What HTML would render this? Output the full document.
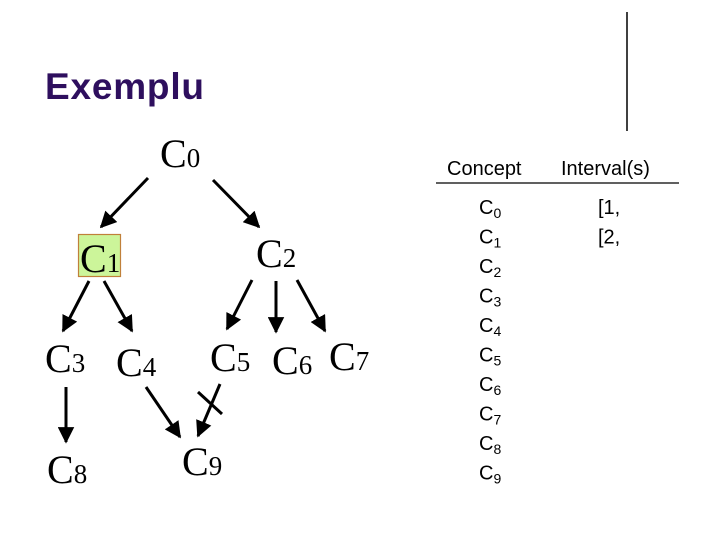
<!DOCTYPE html>
<html><head><meta charset="utf-8"><style>
html,body{margin:0;padding:0;background:#fff;width:720px;height:540px;overflow:hidden}
</style></head><body>
<svg width="720" height="540" viewBox="0 0 720 540" xmlns="http://www.w3.org/2000/svg">
<defs>
<marker id="a" viewBox="0 0 10 10" refX="9" refY="5" markerWidth="5.5" markerHeight="5.5" markerUnits="strokeWidth" orient="auto">
<path d="M0,0 L10,5 L0,10 z" fill="#000"/></marker>
</defs>
<text x="45" y="99" font-family="Liberation Sans, sans-serif" font-weight="bold" font-size="37" fill="#2e0f5e" textLength="159">Exemplu</text>
<line x1="627" y1="12" x2="627" y2="131" stroke="#000" stroke-width="1.5"/>
<rect x="78.5" y="234.5" width="42" height="42" fill="#ccf59a" stroke="#c0803a" stroke-width="1.2"/>
<g font-family="Liberation Serif, serif" font-size="40" fill="#000">
<text x="160" y="167">C<tspan font-size="27">0</tspan></text>
<text x="80" y="272">C<tspan font-size="27">1</tspan></text>
<text x="256" y="267">C<tspan font-size="27">2</tspan></text>
<text x="45" y="372">C<tspan font-size="27">3</tspan></text>
<text x="116" y="376">C<tspan font-size="27">4</tspan></text>
<text x="210" y="371">C<tspan font-size="27">5</tspan></text>
<text x="272" y="374">C<tspan font-size="27">6</tspan></text>
<text x="329" y="370">C<tspan font-size="27">7</tspan></text>
<text x="47" y="483">C<tspan font-size="27">8</tspan></text>
<text x="182" y="475">C<tspan font-size="27">9</tspan></text>
</g>
<g stroke="#000" stroke-width="3" marker-end="url(#a)">
<line x1="148" y1="178" x2="101" y2="227"/>
<line x1="213" y1="180" x2="259" y2="227"/>
<line x1="89" y1="281" x2="63" y2="331"/>
<line x1="104" y1="281" x2="132" y2="331"/>
<line x1="252" y1="280" x2="227" y2="329"/>
<line x1="276" y1="281" x2="276" y2="332"/>
<line x1="297" y1="280" x2="325" y2="331"/>
<line x1="66" y1="387" x2="66" y2="442"/>
<line x1="146" y1="387" x2="180" y2="437"/>
<line x1="220" y1="384" x2="198" y2="436"/>
</g>
<line x1="198" y1="392" x2="222" y2="414" stroke="#000" stroke-width="3"/>
<g font-family="Liberation Sans, sans-serif" fill="#000">
<text x="447" y="175" font-size="20">Concept</text>
<text x="561" y="175" font-size="20">Interval(s)</text>
<line x1="436" y1="183" x2="679" y2="183" stroke="#000" stroke-width="1.2"/>
<g font-size="20">
<text x="479" y="214">C<tspan font-size="14" dy="4">0</tspan></text>
<text x="479" y="243.5">C<tspan font-size="14" dy="4">1</tspan></text>
<text x="479" y="273">C<tspan font-size="14" dy="4">2</tspan></text>
<text x="479" y="302.5">C<tspan font-size="14" dy="4">3</tspan></text>
<text x="479" y="332">C<tspan font-size="14" dy="4">4</tspan></text>
<text x="479" y="361.5">C<tspan font-size="14" dy="4">5</tspan></text>
<text x="479" y="391">C<tspan font-size="14" dy="4">6</tspan></text>
<text x="479" y="420.5">C<tspan font-size="14" dy="4">7</tspan></text>
<text x="479" y="450">C<tspan font-size="14" dy="4">8</tspan></text>
<text x="479" y="479.5">C<tspan font-size="14" dy="4">9</tspan></text>
<text x="598" y="214">[1,</text>
<text x="598" y="243.5">[2,</text>
</g>
</g>
</svg>
</body></html>
